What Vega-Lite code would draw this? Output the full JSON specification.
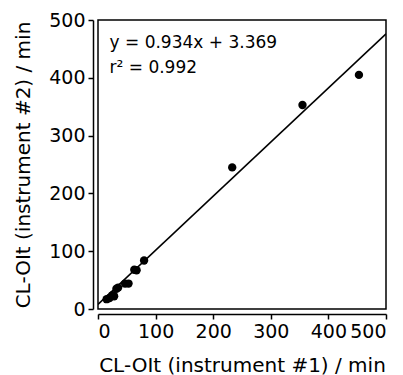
{
  "$schema": "https://vega.github.io/schema/vega-lite/v6.json",
  "width": 288,
  "height": 289,
  "autosize": {"type": "none"},
  "padding": {"left": 98, "top": 20, "right": 17, "bottom": 66},
  "config": {
    "view": {"stroke": "black", "strokeWidth": 1.5},
    "font": "DejaVu Sans",
    "axis": {
      "grid": false,
      "domainColor": "black",
      "domainWidth": 1.5,
      "tickColor": "black",
      "tickWidth": 1.5,
      "tickSize": 5,
      "labelColor": "black",
      "titleColor": "black",
      "labelFont": "DejaVu Sans",
      "titleFont": "DejaVu Sans",
      "labelFontSize": 19,
      "titleFontSize": 20,
      "titleFontWeight": "normal",
      "offset": 5
    }
  },
  "datasets": {
    "pts": [
      {"x": 15, "y": 17}, {"x": 20, "y": 19}, {"x": 25, "y": 24}, {"x": 28, "y": 22},
      {"x": 32, "y": 35}, {"x": 35, "y": 37}, {"x": 47, "y": 44}, {"x": 53, "y": 44},
      {"x": 63, "y": 68}, {"x": 67, "y": 67}, {"x": 80, "y": 84},
      {"x": 233, "y": 245}, {"x": 355, "y": 353}, {"x": 453, "y": 405}
    ],
    "fit": [{"x": 0, "y": 8}, {"x": 500, "y": 476}],
    "labels": [
      {"x": 20, "y": 452, "t": "y = 0.934x + 3.369"},
      {"x": 20, "y": 408, "t": "r² = 0.992"}
    ]
  },
  "layer": [
    {
      "data": {"name": "fit"},
      "mark": {"type": "line", "color": "black", "strokeWidth": 1.5, "clip": true},
      "encoding": {
        "x": {"field": "x", "type": "quantitative", "scale": {"domain": [0, 500], "nice": false},
          "axis": {"values": [0, 100, 200, 300, 400, 500], "title": "CL-OIt (instrument #1) / min", "labelPadding": 3, "titlePadding": 14}},
        "y": {"field": "y", "type": "quantitative", "scale": {"domain": [0, 500], "nice": false},
          "axis": {"values": [0, 100, 200, 300, 400, 500], "title": "CL-OIt (instrument #2) / min", "labelPadding": 3, "titlePadding": 15}}
      }
    },
    {
      "data": {"name": "pts"},
      "mark": {"type": "point", "filled": true, "color": "black", "opacity": 1, "size": 70},
      "encoding": {
        "x": {"field": "x", "type": "quantitative"},
        "y": {"field": "y", "type": "quantitative"}
      }
    },
    {
      "data": {"name": "labels"},
      "mark": {"type": "text", "align": "left", "baseline": "alphabetic", "fontSize": 17, "color": "black", "font": "DejaVu Sans"},
      "encoding": {
        "x": {"field": "x", "type": "quantitative"},
        "y": {"field": "y", "type": "quantitative"},
        "text": {"field": "t"}
      }
    }
  ]
}
